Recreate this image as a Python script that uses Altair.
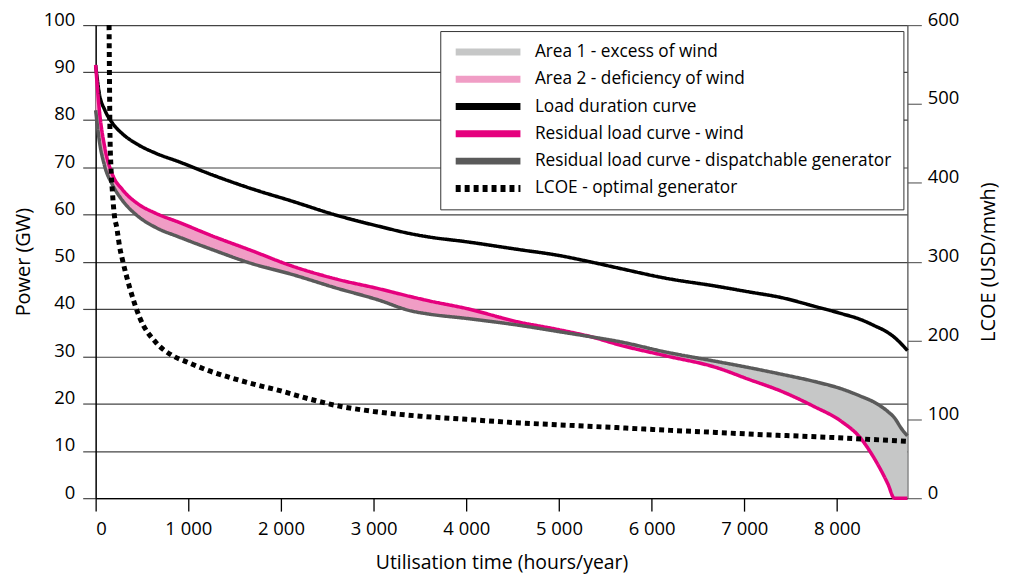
import altair as alt
import pandas as pd

# ---- data ----
hours = [0, 40, 100, 180, 290, 450, 650, 900, 1250, 1700, 2100, 2600, 3050, 3400, 3600,
         4000, 4550, 5000, 5350, 5650, 6150, 6700, 7050, 7400, 7750, 8050, 8250, 8400,
         8550, 8620, 8700, 8760]
load = [91.5, 85.5, 82.0, 79.3, 77.0, 74.8, 72.9, 71.1, 68.4, 65.3, 62.9, 59.8, 57.5, 55.9, 55.2,
        54.2, 52.6, 51.3, 49.9, 48.6, 46.5, 44.8, 43.6, 42.4, 40.6, 39.0, 37.8, 36.5,
        35.0, 34.0, 32.5, 31.2]
wind = [91.6, 82.0, 74.0, 68.5, 65.2, 62.3, 60.2, 58.3, 55.5, 52.2, 49.2, 46.3, 44.3, 42.6, 41.7,
        40.1, 37.3, 35.6, 34.1, 32.4, 30.1, 27.6, 25.1, 22.6, 19.4, 16.2, 12.8, 8.5,
        3.0, 0.0, 0.0, 0.0]
disp = [82.0, 75.5, 70.0, 66.3, 62.9, 59.7, 57.2, 55.2, 52.6, 49.5, 47.4, 44.4, 41.9, 39.6, 38.9,
        38.0, 36.6, 35.2, 34.1, 33.1, 30.9, 28.9, 27.6, 26.2, 24.7, 23.1, 21.6, 20.3,
        18.3, 17.0, 14.6, 13.2]
crossing_hour = 5350

lcoe_hours = [145, 150, 155, 165, 180, 205, 225, 260, 290, 365, 472, 654, 826, 1000, 1190,
              1450, 1727, 2000, 2300, 2618, 3000, 3500, 4000, 4500, 5000, 5622, 6200, 6695,
              7200, 7693, 8200, 8760]
lcoe = [600, 520, 460, 420, 390, 356, 345, 318, 302, 268, 230, 197, 181, 172, 163,
        153, 144, 136, 126, 117, 110, 104, 100, 96, 93, 89.5, 86, 83.4,
        80.5, 78.3, 75.5, 72]

series_names = ["Area 1 - excess of wind", "Area 2 - deficiency of wind", "Load duration curve",
                "Residual load curve - wind", "Residual load curve - dispatchable generator",
                "LCOE - optimal generator"]
series_colors = ["#c6c7c7", "#f09dc5", "#000000", "#e5007e", "#5a5a5a", "#000000"]
series_dashes = [[1, 0], [1, 0], [1, 0], [1, 0], [1, 0], [5, 4]]
x_ticks = [0, 1000, 2000, 3000, 4000, 5000, 6000, 7000, 8000]
y_ticks = [0, 10, 20, 30, 40, 50, 60, 70, 80, 90, 100]
lcoe_ticks = [0, 100, 200, 300, 400, 500, 600]

FONT = "Open Sans"

band = pd.DataFrame({"hours": hours, "wind": wind, "disp": disp})
lines_df = pd.concat([
    pd.DataFrame({"hours": hours, "value": load, "series": series_names[2]}),
    pd.DataFrame({"hours": hours, "value": wind, "series": series_names[3]}),
    pd.DataFrame({"hours": hours, "value": disp, "series": series_names[4]}),
], ignore_index=True)
lcoe_df = pd.DataFrame({"hours": lcoe_hours, "value": lcoe, "series": series_names[5]})

x_scale = alt.Scale(domain=[0, 8760], nice=False, zero=False)
x_axis = alt.Axis(values=x_ticks, labelExpr="replace(format(datum.value, ','), ',', ' ')",
                  title="Utilisation time (hours/year)", grid=False, tickSize=13,
                  tickColor="#000", tickWidth=1.3, domainColor="#000", domainWidth=1.3,
                  labelPadding=8, titlePadding=16, labelFontSize=18.5, titleFontSize=19.5,
                  labelColor="#000", titleColor="#000", titleFontWeight="normal")
X = alt.X("hours:Q", scale=x_scale, axis=x_axis)

y_scale = alt.Scale(domain=[0, 100], nice=False)
y_axis = alt.Axis(orient="left", values=y_ticks, title="Power (GW)", grid=True,
                  gridColor="#444", gridWidth=1.2, tickSize=13, tickColor="#444", tickWidth=1.2,
                  domainColor="#000", domainWidth=1.5, labelPadding=8, titlePadding=10,
                  labelBaseline="alphabetic", labelFontSize=18.5, titleFontSize=20,
                  labelColor="#000", titleColor="#000", titleFontWeight="normal")

color_scale = alt.Scale(domain=series_names, range=series_colors)
dash_scale = alt.Scale(domain=series_names, range=series_dashes)
legend = alt.Legend(title=None, orient="none", legendX=346, legendY=6,
                    fillColor="white", strokeColor="#333", padding=12,
                    symbolType="stroke", symbolStrokeWidth=7, symbolSize=4225,
                    labelFontSize=17.3, labelFont=FONT, labelColor="#000",
                    clipHeight=18, rowPadding=9.4, labelOffset=11, labelLimit=500)

area2 = alt.Chart(band).transform_filter(alt.datum.hours <= crossing_hour).mark_area(
    color=series_colors[1], opacity=1, interpolate="monotone").encode(
    x=X, y=alt.Y("disp:Q", scale=y_scale, axis=y_axis), y2="wind:Q")
area1 = alt.Chart(band).transform_filter(alt.datum.hours >= crossing_hour).mark_area(
    color=series_colors[0], opacity=1, interpolate="monotone").encode(
    x=X, y=alt.Y("wind:Q", scale=y_scale, axis=y_axis), y2="disp:Q")

lines = alt.Chart(lines_df).mark_line(strokeWidth=3.5, interpolate="monotone").encode(
    x=X,
    y=alt.Y("value:Q", scale=y_scale, axis=y_axis),
    color=alt.Color("series:N", scale=color_scale, legend=legend),
    strokeDash=alt.StrokeDash("series:N", scale=dash_scale, legend=legend),
    order=alt.Order("hours:Q"),
)

left = alt.layer(area2, area1, lines)

lcoe_axis = alt.Axis(orient="right", values=lcoe_ticks, title="LCOE (USD/mwh)", titleAngle=270,
                     grid=False, tickSize=14, tickColor="#666", tickWidth=1.2,
                     domainColor="#555", domainWidth=1.3, labelPadding=6, titlePadding=40,
                     labelBaseline="alphabetic", labelFontSize=18.5, titleFontSize=20,
                     labelColor="#000", titleColor="#000", titleFontWeight="normal")
lcoe_line = alt.Chart(lcoe_df).mark_line(strokeWidth=5, clip=True, interpolate="monotone").encode(
    x=X,
    y=alt.Y("value:Q", scale=alt.Scale(domain=[0, 600], nice=False), axis=lcoe_axis),
    color=alt.Color("series:N", scale=color_scale, legend=legend),
    strokeDash=alt.StrokeDash("series:N", scale=dash_scale, legend=legend),
    order=alt.Order("hours:Q"),
)

chart = alt.layer(left, lcoe_line).resolve_scale(y="independent").properties(
    width=815, height=475,
    autosize=alt.AutoSizeParams(type="none"),
    padding={"left": 88, "top": 16, "right": 95, "bottom": 79},
).configure(font=FONT).configure_view(stroke=None)

chart.save("out.html", embed_options={"renderer": "svg", "actions": False})
